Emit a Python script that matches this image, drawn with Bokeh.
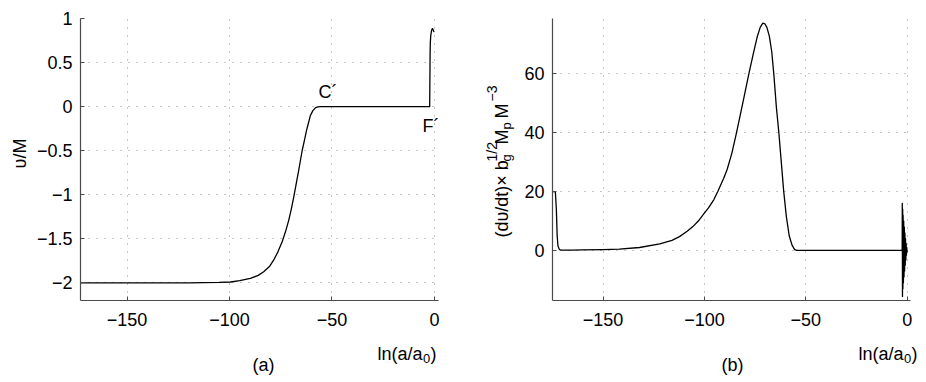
import math
from bokeh.plotting import figure
from bokeh.layouts import row
from bokeh.models import Label, FixedTicker, Range1d
from bokeh.embed import file_html
from bokeh.resources import INLINE

# ---------------- data ----------------
# panel (a): nu/M versus ln(a/a0)
lna_a = [-172.7, -150, -120, -105, -99.5, -95, -89.8, -86, -83.3, -80.5, -78.4,
         -76.3, -74.3, -72.6, -71.1, -69.8, -68.6, -67.4, -66.2, -65.3, -64.5,
         -63.4, -62.4, -61.4, -60.5, -59.3, -58.0, -56.8, -55.6, -50, -30, -10,
         -2.3, -2.2, -2.1, -2.0, -1.8, -1.5, -1.2, -1.0, -0.7, -0.4, -0.2]
nu_a = [-2.0, -2.0, -1.999, -1.995, -1.99, -1.975, -1.948, -1.915, -1.873, -1.815,
        -1.74, -1.645, -1.533, -1.415, -1.29, -1.16, -1.02, -0.87, -0.72, -0.6,
        -0.495, -0.38, -0.27, -0.18, -0.1, -0.045, -0.012, -0.002, 0.0, 0.0, 0.0,
        0.0, 0.0, 0.3, 0.6, 0.72, 0.8, 0.85, 0.875, 0.885, 0.878, 0.86, 0.845]

# panel (b): (d nu/dt) x b_g^(1/2) M_p M^-3 versus ln(a/a0)
lna_b = [-175.0, -173.5, -173.0, -172.6, -172.2, -171.5, -170.5, -165, -160, -150,
         -142, -132, -122, -116, -112.3, -108.5, -105.7, -103, -100.7, -98, -95.4,
         -93.4, -90.5, -88.8, -86.5, -84.5, -82.5, -80.5, -78.1, -76, -74, -72.5,
         -71.2, -70.2, -69.2, -68, -66.8, -65.8, -64.5, -63.3, -62.1, -60.9,
         -59.6, -58.2, -56.8, -55.5, -54.3, -30, -2.5]
dnu_b = [20.0, 20.0, 14.0, 5.0, 1.5, 0.3, 0.1, 0.12, 0.18, 0.3, 0.47, 1.0, 2.2,
         3.4, 4.7, 6.5, 8.1, 10.0, 12.1, 14.5, 17.2, 20.0, 24.5, 27.5, 33.0, 39.0,
         45.5, 52.0, 60.0, 66.5, 72.5, 75.8, 77.2, 77.0, 75.8, 72.8, 67.5, 60.0,
         48.5, 40.0, 30.0, 20.0, 11.5, 5.0, 1.8, 0.3, 0.0, 0.0, 0.0]
# late-time oscillation near ln(a/a0) = 0
osc_x = [-2.5, -2.45, -2.35, -2.25, -2.15, -2.05, -1.9, -1.75, -1.6, -1.45,
         -1.3, -1.15, -1.0, -0.85, -0.7, -0.55, -0.4, -0.25, -0.1, 0.0]
osc_y = [0.0, 16.0, -15.6, 14.0, -13.0, 12.0, -11.0, 10.0, -9.0, 8.0, -7.0,
         6.0, -5.0, 4.0, -3.2, 2.4, -1.6, 1.0, -0.5, 0.0]

xticks = [-150, -100, -50, 0]
yticks_a = [-2, -1.5, -1, -0.5, 0, 0.5, 1]
yticks_b = [0, 20, 40, 60]

FONT = "Liberation Sans"
TICK_PX = "18px"
LAB_PX = "18px"
SUB_PX = "13px"
SUP_PX = "14px"
FW, FH = 358, 282


def fmt(v):
    return ("%g" % v).replace("-", "\u2212")


def make_fig(xr, yr, yt, left_border, right_border):
    p = figure(frame_width=FW, frame_height=FH, x_range=Range1d(*xr),
               y_range=Range1d(*yr), output_backend="svg", toolbar_location=None,
               min_border_left=left_border, min_border_right=right_border,
               min_border_top=18, min_border_bottom=80)
    p.outline_line_color = None
    p.background_fill_color = "white"
    p.border_fill_color = "white"
    for ax, ticks in ((p.xaxis[0], xticks), (p.yaxis[0], yt)):
        ax.ticker = FixedTicker(ticks=ticks, minor_ticks=[])
        ax.major_label_overrides = {t: fmt(t) for t in ticks}
        ax.axis_line_color = "#4a4a4a"
        ax.axis_line_width = 1.2
        ax.major_tick_line_color = "#4a4a4a"
        ax.major_tick_in = 4
        ax.major_tick_out = 0
        ax.minor_tick_line_color = None
        ax.major_label_text_font = FONT
        ax.major_label_text_font_size = TICK_PX
        ax.major_label_text_color = "black"
    p.xaxis.major_label_standoff = 12
    p.yaxis.major_label_standoff = 8
    for g in (p.xgrid[0], p.ygrid[0]):
        g.grid_line_color = "#8a8a8a"
        g.grid_line_dash = "1 7"
        g.grid_line_width = 1
    return p


def lab(p, place, text, sx, sy, size=LAB_PX, angle=0.0, align="left"):
    # sx, sy: pixel offsets from the frame's bottom-left corner (sy upward),
    # converted to data units; labels outside the frame sit in the lower
    # side panel (which is not clipped) so that the frame keeps its place.
    xr, yr = p.x_range, p.y_range
    x = xr.start + sx / FW * (xr.end - xr.start)
    y = yr.start + sy / FH * (yr.end - yr.start)
    p.add_layout(Label(x=x, y=y, text=text, text_font=FONT, text_font_size=size,
                       text_color="black", angle=angle, text_align=align,
                       text_baseline="alphabetic"), place)


rot = math.pi / 2

# ---------------- panel (a) ----------------
pa = make_fig((-172.7, 2.0), (-2.2, 1.0), yticks_a, 80, 22)
pa.line(lna_a, nu_a, line_color="black", line_width=1.3, line_join="round")
lab(pa, "center", "C\u00b4", 238, 209)
lab(pa, "center", "F\u00b4", 342, 175)
lab(pa, "below", "\u03c5/M", -61, 147, angle=rot, align="center")
lab(pa, "below", "ln(a/a", 342, -53, align="right")
lab(pa, "below", "0", 342.5, -58, size=SUB_PX)
lab(pa, "below", ")", 350, -53)
lab(pa, "below", "(a)", 183, -64, align="center")

# ---------------- panel (b) ----------------
pb = make_fig((-174.9, 1.6), (-17.0, 78.8), yticks_b, 92, 8)
pb.line(lna_b, dnu_b, line_color="black", line_width=1.3, line_join="round")
pb.line(osc_x, osc_y, line_color="black", line_width=1.3, line_join="round")
lab(pb, "below", "(d\u03c5/dt)\u00d7 b", -51, 63, angle=rot)
lab(pb, "below", "g", -46, 139, size=SUB_PX, angle=rot)
lab(pb, "below", "1/2", -61, 139, size=SUP_PX, angle=rot)
lab(pb, "below", "M", -51, 156, angle=rot)
lab(pb, "below", "p", -46, 171, size=SUB_PX, angle=rot)
lab(pb, "below", "M", -51, 182, angle=rot)
lab(pb, "below", "\u22123", -61, 199, size=SUP_PX, angle=rot)
lab(pb, "below", "ln(a/a", 351, -53, align="right")
lab(pb, "below", "0", 351.5, -58, size=SUB_PX)
lab(pb, "below", ")", 359, -53)
lab(pb, "below", "(b)", 180, -64, align="center")

layout = row(pa, pb)
open("out.html", "w").write(file_html(layout, INLINE))
